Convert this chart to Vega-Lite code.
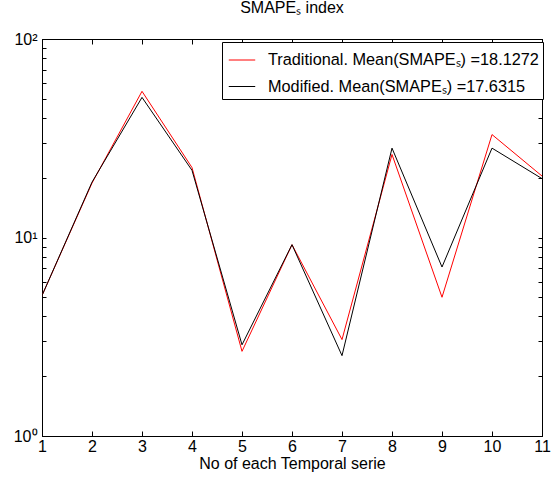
{
  "$schema": "https://vega.github.io/schema/vega-lite/v6.json",
  "width": 500,
  "height": 397,
  "autosize": "none",
  "padding": {"left": 42, "top": 39, "right": 13, "bottom": 41},
  "background": "white",
  "title": {"text": "SMAPEₛ index", "fontSize": 16, "font": "Liberation Sans", "fontWeight": "normal", "color": "black", "offset": 15, "anchor": "middle"},
  "config": {
    "view": {"stroke": "black", "strokeWidth": 1},
    "font": "Liberation Sans",
    "axis": {"grid": false, "domainColor": "black", "tickColor": "black", "labelColor": "black", "titleColor": "black", "labelFontSize": 16, "titleFontSize": 16, "titleFontWeight": "normal", "labelFont": "Liberation Sans", "titleFont": "Liberation Sans"}
  },
  "data": {"values": [
    {"n": 1, "v": 5.1, "s": "Traditional. Mean(SMAPEₛ) =18.1272"},
    {"n": 2, "v": 18.8, "s": "Traditional. Mean(SMAPEₛ) =18.1272"},
    {"n": 3, "v": 54.5, "s": "Traditional. Mean(SMAPEₛ) =18.1272"},
    {"n": 4, "v": 22.5, "s": "Traditional. Mean(SMAPEₛ) =18.1272"},
    {"n": 5, "v": 2.67, "s": "Traditional. Mean(SMAPEₛ) =18.1272"},
    {"n": 6, "v": 9.2, "s": "Traditional. Mean(SMAPEₛ) =18.1272"},
    {"n": 7, "v": 3.06, "s": "Traditional. Mean(SMAPEₛ) =18.1272"},
    {"n": 8, "v": 26.2, "s": "Traditional. Mean(SMAPEₛ) =18.1272"},
    {"n": 9, "v": 5.0, "s": "Traditional. Mean(SMAPEₛ) =18.1272"},
    {"n": 10, "v": 33.0, "s": "Traditional. Mean(SMAPEₛ) =18.1272"},
    {"n": 11, "v": 20.4, "s": "Traditional. Mean(SMAPEₛ) =18.1272"},
    {"n": 1, "v": 5.1, "s": "Modified. Mean(SMAPEₛ) =17.6315"},
    {"n": 2, "v": 19.0, "s": "Modified. Mean(SMAPEₛ) =17.6315"},
    {"n": 3, "v": 50.8, "s": "Modified. Mean(SMAPEₛ) =17.6315"},
    {"n": 4, "v": 21.8, "s": "Modified. Mean(SMAPEₛ) =17.6315"},
    {"n": 5, "v": 2.88, "s": "Modified. Mean(SMAPEₛ) =17.6315"},
    {"n": 6, "v": 9.2, "s": "Modified. Mean(SMAPEₛ) =17.6315"},
    {"n": 7, "v": 2.54, "s": "Modified. Mean(SMAPEₛ) =17.6315"},
    {"n": 8, "v": 28.2, "s": "Modified. Mean(SMAPEₛ) =17.6315"},
    {"n": 9, "v": 7.1, "s": "Modified. Mean(SMAPEₛ) =17.6315"},
    {"n": 10, "v": 28.2, "s": "Modified. Mean(SMAPEₛ) =17.6315"},
    {"n": 11, "v": 19.8, "s": "Modified. Mean(SMAPEₛ) =17.6315"}
  ]},
  "layer": [
    {
      "mark": {"type": "line", "strokeWidth": 1, "clip": true},
      "encoding": {
        "x": {"field": "n", "type": "quantitative", "scale": {"domain": [1, 11], "nice": false, "zero": false},
              "axis": {"orient": "bottom", "values": [1,2,3,4,5,6,7,8,9,10,11], "tickSize": -5, "labelPadding": 7, "title": "No of each Temporal serie", "titlePadding": 1, "labelFlush": false}},
        "y": {"field": "v", "type": "quantitative", "scale": {"type": "log", "domain": [1, 100], "nice": false},
              "axis": {"orient": "left", "values": [1,2,3,4,5,6,7,8,9,10,20,30,40,50,60,70,80,90,100], "tickSize": -4, "labelPadding": 9, "title": null, "labelFlush": false,
                       "labelExpr": "datum.value == 1 ? '10⁰' : datum.value == 10 ? '10¹' : datum.value == 100 ? '10²' : ''"}},
        "color": {"field": "s", "type": "nominal",
                  "scale": {"domain": ["Traditional. Mean(SMAPEₛ) =18.1272", "Modified. Mean(SMAPEₛ) =17.6315"], "range": ["#ff0000", "#000000"]},
                  "legend": {"title": null, "orient": "none", "legendX": 180, "legendY": 3, "strokeColor": "black", "fillColor": "white", "padding": 4,
                             "labelFontSize": 16.3, "labelColor": "black", "labelFont": "Liberation Sans", "labelLimit": 500, "symbolType": "stroke", "symbolSize": 700, "symbolOffset": 2, "symbolStrokeWidth": 1, "rowPadding": 3.5, "labelOffset": 12, "cornerRadius": 0}}
      }
    },
    {
      "mark": {"type": "line", "opacity": 0},
      "encoding": {
        "x": {"field": "n", "type": "quantitative", "scale": {"domain": [1, 11], "nice": false, "zero": false},
              "axis": {"orient": "top", "values": [1,2,3,4,5,6,7,8,9,10,11], "tickSize": -5, "labels": false, "title": null}},
        "y": {"field": "v", "type": "quantitative", "scale": {"type": "log", "domain": [1, 100], "nice": false},
              "axis": {"orient": "right", "values": [1,2,3,4,5,6,7,8,9,10,20,30,40,50,60,70,80,90,100], "tickSize": -4, "labels": false, "title": null}}
      }
    }
  ],
  "resolve": {"axis": {"x": "independent", "y": "independent"}}
}
